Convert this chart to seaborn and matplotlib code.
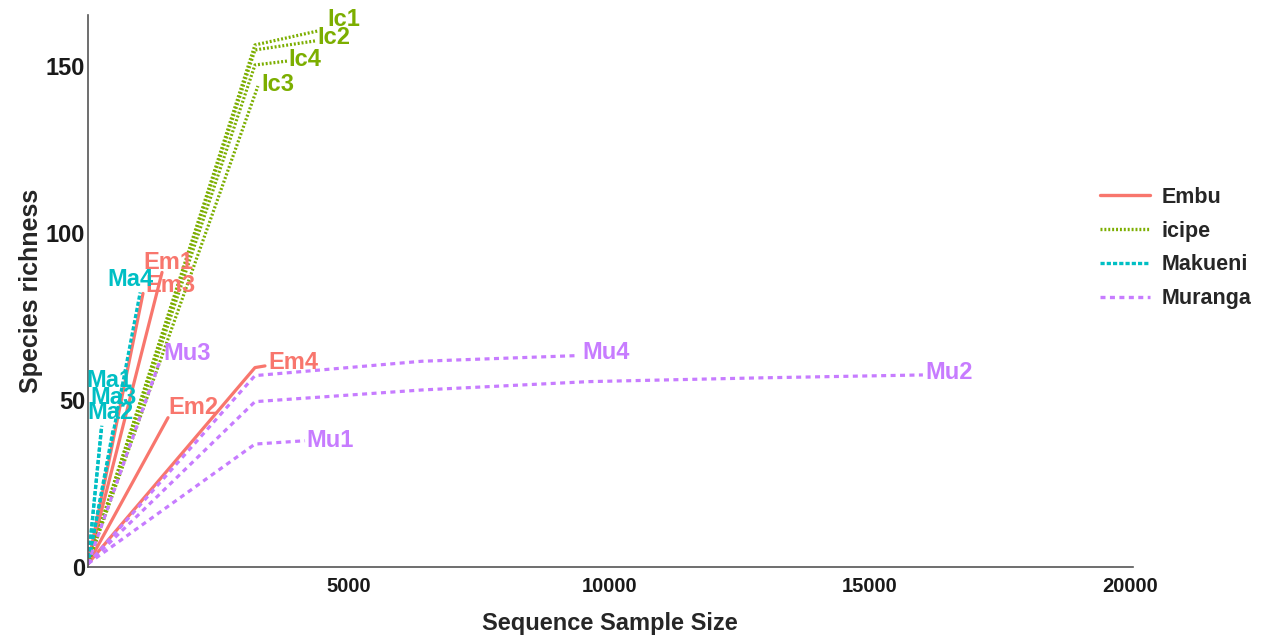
import matplotlib
matplotlib.use("Agg")
import matplotlib.pyplot as plt
import matplotlib.transforms as mtransforms
import seaborn as sns
import pandas as pd

# ---------------- data ----------------
sites = ["Embu", "icipe", "Makueni", "Muranga"]

embu = {
    "Em1": ([1, 1420], [1, 88.2]),
    "Em2": ([1, 1535], [1, 44.7]),
    "Em3": ([1, 1055], [1, 81.9]),
    "Em4": ([1, 3203, 3395], [1, 59.7, 60.2]),
}
icipe = {
    "Ic1": ([1, 3203, 4412], [1, 156.3, 160.5]),
    "Ic2": ([1, 3203, 4354], [1, 154.8, 157.5]),
    "Ic3": ([1, 3260], [1, 144.0]),
    "Ic4": ([1, 3203, 3837], [1, 150.3, 151.5]),
}
makueni = {
    "Ma1": ([1, 265], [1, 42.3]),
    "Ma2": ([1, 255], [1, 41.5]),
    "Ma3": ([1, 485], [1, 41.5]),
    "Ma4": ([1, 1000], [1, 82.2]),
}
muranga = {
    "Mu1": ([1, 3203, 4163], [1, 36.8, 37.8]),
    "Mu2": ([1, 3203, 6406, 9609, 12812, 16017], [1, 49.5, 53.0, 55.5, 56.6, 57.5]),
    "Mu3": ([1, 1381], [1, 61.8]),
    "Mu4": ([1, 3203, 6406, 9400], [1, 57.3, 61.6, 63.3]),
}

x_ticks = [5000, 10000, 15000, 20000]
y_ticks = [0, 50, 100, 150]

# ---------------- styles ----------------
palette = {"Embu": "#F8766D", "icipe": "#7CAE00", "Makueni": "#00BFC4", "Muranga": "#C77CFF"}
dashes = {"Embu": "", "icipe": (1.4, 1.4), "Makueni": (3.0, 1.5), "Muranga": (3.6, 3.2)}
# label offsets in pixels (dx, dy) relative to curve end
label_offsets = {
    "Em1": (-19, 10), "Em2": (0, 10), "Em3": (2, 8), "Em4": (3, 3),
    "Ic1": (9, 11), "Ic2": (2, 3), "Ic3": (3, 2), "Ic4": (0, 1),
    "Ma1": (-15, 45), "Ma2": (-14, 16), "Ma3": (-23, 31), "Ma4": (-33, 13),
    "Mu1": (1, 0), "Mu2": (2, 2), "Mu3": (3, 7), "Mu4": (4, 3),
}

rows = []
for site, group in zip(sites, [embu, icipe, makueni, muranga]):
    for sample, (xs, ys) in group.items():
        for xv, yv in zip(xs, ys):
            rows.append({"site": site, "sample": sample, "size": xv, "richness": yv})
df = pd.DataFrame(rows)

sns.set_theme(style="white")
plt.rcParams["font.family"] = ["Liberation Sans", "DejaVu Sans"]
plt.rcParams["lines.scale_dashes"] = False

fig = plt.figure(figsize=(12.7, 6.39), dpi=100)
ax = fig.add_axes([0.0693, 0.1127, 0.8225, 0.864])

sns.lineplot(data=df, x="size", y="richness", hue="site", style="site",
             units="sample", estimator=None, sort=False, palette=palette,
             dashes=dashes, hue_order=sites, style_order=sites,
             linewidth=2.3, ax=ax)

# end labels
for site, group in zip(sites, [embu, icipe, makueni, muranga]):
    for sample, (xs, ys) in group.items():
        dx, dy = label_offsets[sample]
        tr = mtransforms.offset_copy(ax.transData, fig=fig, x=dx, y=dy, units="dots")
        ax.text(xs[-1], ys[-1], sample, transform=tr, ha="left", va="center",
                color=palette[site], fontsize=17, fontweight="bold")

ax.set_xlim(0, 20040)
ax.set_ylim(0, 165.3)
ax.set_xticks(x_ticks)
ax.set_yticks(y_ticks)
ax.set_xticklabels([str(t) for t in x_ticks], fontsize=14.5, fontweight="bold")
ax.set_yticklabels([str(t) for t in y_ticks], fontsize=17, fontweight="bold")
ax.tick_params(axis="x", length=3, width=1, color="#333333", pad=4, labelcolor="#1a1a1a")
ax.tick_params(axis="y", length=2, width=1, color="#333333", pad=0, labelcolor="#1a1a1a")
ax.set_xlabel("Sequence Sample Size", fontsize=17, fontweight="bold", labelpad=12)
ax.set_ylabel("Species richness", fontsize=18, fontweight="bold", labelpad=2)
for s in ["top", "right"]:
    ax.spines[s].set_visible(False)
for s in ["left", "bottom"]:
    ax.spines[s].set_color("#555555")
    ax.spines[s].set_linewidth(1.2)

handles, labels = ax.get_legend_handles_labels()
if ax.get_legend() is not None:
    ax.get_legend().remove()
pairs = [(h, l) for h, l in zip(handles, labels) if l in sites]
for h, _ in pairs:
    h.set_linewidth(2.4)
leg = fig.legend([p[0] for p in pairs], [p[1] for p in pairs],
                 loc="center left", bbox_to_anchor=(1100 / 1270, 1 - 248 / 639),
                 frameon=False, fontsize=15.5, handlelength=2.3, labelspacing=0.6,
                 handletextpad=0.55, borderpad=0, borderaxespad=0)
for t in leg.get_texts():
    t.set_fontweight("bold")

fig.savefig("out.png", dpi=100)
